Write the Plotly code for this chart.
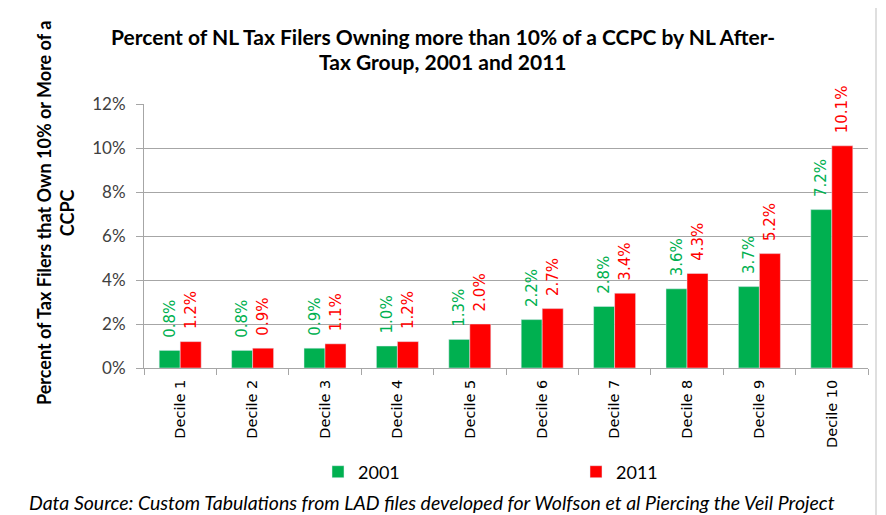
import plotly.graph_objects as go

categories = ["Decile 1", "Decile 2", "Decile 3", "Decile 4", "Decile 5",
              "Decile 6", "Decile 7", "Decile 8", "Decile 9", "Decile 10"]
values_2001 = [0.8, 0.8, 0.9, 1.0, 1.3, 2.2, 2.8, 3.6, 3.7, 7.2]
values_2011 = [1.2, 0.9, 1.1, 1.2, 2.0, 2.7, 3.4, 4.3, 5.2, 10.1]
y_ticks = [0, 2, 4, 6, 8, 10, 12]

GREEN = "#00B050"
RED = "#FF0000"

# page body has an 8px margin; work in window pixels and convert
OFF = 8
W, H = 886 - 2 * OFF, 515 - OFF
L, R, T, B = 144, 868, 104, 368  # plot area in window pixels
def px(x): return (x - L) / (R - L)
def py(y): return (B - y) / (B - T)

PAD = "\u00a0\u00a0"  # small gap between bar end and rotated label

fig = go.Figure()
fig.add_trace(go.Bar(
    x=categories, y=values_2001, name="2001", marker_color=GREEN,
    text=[f"{PAD}{v:.1f}%" for v in values_2001], textposition="outside",
    textangle=-90, constraintext="none",
    textfont=dict(color=GREEN, size=15, family="DejaVu Sans"),
    cliponaxis=False,
))
fig.add_trace(go.Bar(
    x=categories, y=values_2011, name="2011", marker_color=RED,
    text=[f"{PAD}{v:.1f}%" for v in values_2011], textposition="outside",
    textangle=-90, constraintext="none",
    textfont=dict(color=RED, size=15, family="DejaVu Sans"),
    cliponaxis=False,
))

fig.update_layout(
    width=W, height=H,
    margin=dict(l=L - OFF, r=(W + OFF) - R, t=T - OFF, b=(H + OFF) - B, autoexpand=False),
    paper_bgcolor="white", plot_bgcolor="white",
    barmode="group", bargap=0.42, bargroupgap=0,
    font=dict(family="Lato, sans-serif", color="#404040"),
    showlegend=True,
    legend=dict(orientation="h", x=px(318), xanchor="left", y=py(472), yanchor="middle",
                entrywidth=213, entrywidthmode="pixels",
                font=dict(size=18, family="Lato, sans-serif", color="#000000"),
                itemclick=False, traceorder="normal"),
)
fig.update_xaxes(
    type="category", showline=True, linecolor="#A6A6A6", linewidth=1,
    ticks="outside", tickson="boundaries", ticklen=6, tickcolor="#A6A6A6",
    tickangle=-90, ticklabelstandoff=5,
    tickfont=dict(size=14.5, family="DejaVu Sans", color="#000000"),
    showgrid=False,
)
fig.update_yaxes(
    range=[0, 12], tickvals=y_ticks, ticktext=[f"{v}%" for v in y_ticks],
    showline=True, linecolor="#A6A6A6", linewidth=1,
    ticks="outside", ticklen=7, tickcolor="#A6A6A6", ticklabelstandoff=7,
    showgrid=True, gridcolor="#A6A6A6", gridwidth=1,
    tickfont=dict(size=17, family="Lato, sans-serif", color="#404040"),
    zeroline=False,
)

fig.add_annotation(
    text="<b>Percent of NL Tax Filers Owning more than 10% of a CCPC by NL After-</b>",
    xref="paper", yref="paper", x=px(443), y=py(37), xanchor="center", yanchor="middle",
    showarrow=False, font=dict(size=21, family="Lato, sans-serif", color="#000000"),
)
fig.add_annotation(
    text="<b>Tax Group, 2001 and 2011</b>",
    xref="paper", yref="paper", x=px(443), y=py(62), xanchor="center", yanchor="middle",
    showarrow=False, font=dict(size=21, family="Lato, sans-serif", color="#000000"),
)
fig.add_annotation(
    text="<b>Percent of Tax Filers that Own 10% or More of a<br>CCPC</b>",
    xref="paper", yref="paper", x=px(55), y=py(213), xanchor="center", yanchor="middle",
    textangle=-90, showarrow=False,
    font=dict(size=18, family="Lato, sans-serif", color="#000000"),
)
fig.add_annotation(
    text="<i>Data Source: Custom Tabulations from LAD files developed for Wolfson et al Piercing the Veil Project</i>",
    xref="paper", yref="paper", x=px(432), y=py(503), xanchor="center", yanchor="middle",
    showarrow=False, font=dict(size=19.5, family="Lato, sans-serif", color="#000000"),
)
fig.add_shape(
    type="rect", xref="paper", yref="paper",
    x0=px(5), x1=px(876), y0=py(530), y1=py(7),
    line=dict(color="#BFBFBF", width=1), fillcolor="rgba(0,0,0,0)", layer="below",
)

fig.write_html("out.html")
